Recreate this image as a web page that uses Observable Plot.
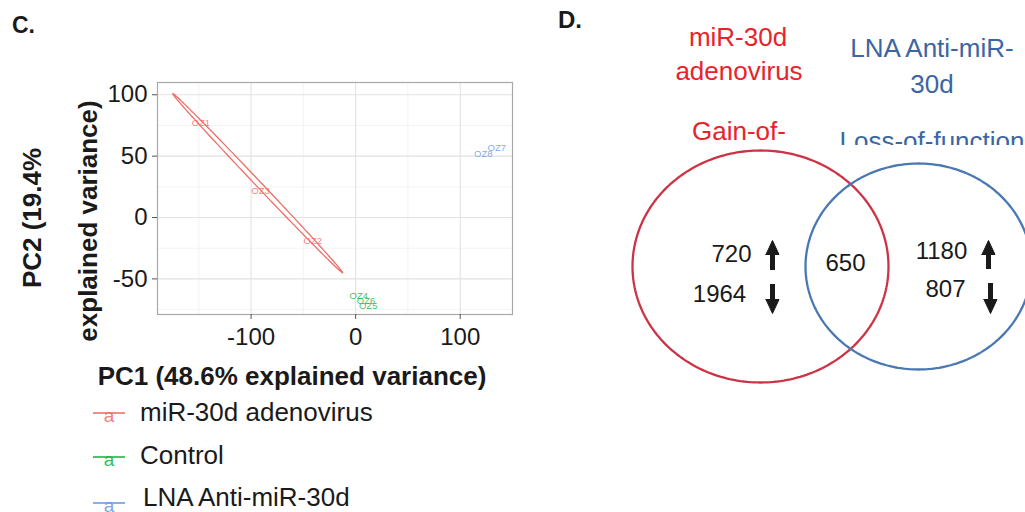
<!DOCTYPE html>
<html><head><meta charset="utf-8">
<script src="https://cdn.jsdelivr.net/npm/d3@7"></script>
<script src="https://cdn.jsdelivr.net/npm/@observablehq/plot@0.6"></script>
<style>
body{margin:0;background:#fff;font-family:"Liberation Sans",Arial,sans-serif;}
#wrap{position:relative;width:1025px;height:512px;overflow:hidden;background:#fff;}
.t{position:absolute;white-space:nowrap;line-height:1;}
svg{display:block;}
</style></head><body><div id="wrap"></div>
<script>
// ---------- Panel C data (PCA) ----------
const groups = ["miR-30d adenovirus", "Control", "LNA Anti-miR-30d"];
const groupColors = ["#F06E68", "#22B443", "#6C9BE6"];
const sampleIds = ["OZ1", "OZ3", "OZ2", "OZ4", "OZ6", "OZ5", "OZ8", "OZ7"];
const sampleGroups = ["miR-30d adenovirus", "miR-30d adenovirus", "miR-30d adenovirus",
  "Control", "Control", "Control", "LNA Anti-miR-30d", "LNA Anti-miR-30d"];
const pc1 = [-148, -91, -41, 3, 10, 12, 122, 135];
const pc2 = [77, 22, -19, -64, -68, -72, 52, 57];
const xTicks = [-100, 0, 100];
const yTicks = [-50, 0, 50, 100];
const xMinor = [-150, -50, 50, 150];
const yMinor = [-75, -25, 25, 75];
// confidence ellipse of the miR-30d group (center, major semi-axis vector, minor semi-axis)
const ellipseCenter = [-93.7, 28];
const ellipseMajor = [-81.3, 73];
const ellipseMinor = 2.4;

// ---------- Panel D data (Venn) ----------
const vennSets = ["miR-30d adenovirus", "LNA Anti-miR-30d"];
const vennUp = [720, 1180];
const vennDown = [1964, 807];
const vennShared = 650;

// ---------- build ----------
const wrap = document.getElementById("wrap");
const FONT = "Liberation Sans, Arial, sans-serif";

function addText(txt, cx, cy, o = {}) {
  const d = document.createElement("div");
  d.className = "t";
  d.textContent = txt;
  d.style.left = cx + "px";
  d.style.top = cy + "px";
  d.style.fontSize = (o.size || 26) + "px";
  d.style.fontWeight = o.weight || "normal";
  d.style.color = o.color || "#1a1a1a";
  const tx = o.align === "left" ? "0" : "-50%";
  d.style.transform = `translate(${tx},-50%)` + (o.rotate ? ` rotate(${o.rotate}deg)` : "");
  (o.parent || wrap).appendChild(d);
  return d;
}

const samples = sampleIds.map((id, i) => ({id, group: sampleGroups[i], pc1: pc1[i], pc2: pc2[i]}));

const mLen = Math.hypot(ellipseMajor[0], ellipseMajor[1]);
const perp = [ellipseMajor[1] / mLen, -ellipseMajor[0] / mLen];
const ellipsePts = d3.range(161).map(i => {
  const t = 2 * Math.PI * i / 160;
  return {
    x: ellipseCenter[0] + Math.cos(t) * ellipseMajor[0] + Math.sin(t) * ellipseMinor * perp[0],
    y: ellipseCenter[1] + Math.cos(t) * ellipseMajor[1] + Math.sin(t) * ellipseMinor * perp[1]
  };
});

const pca = Plot.plot({
  width: 560, height: 512,
  marginLeft: 157, marginTop: 82, marginRight: 48, marginBottom: 198,
  x: {domain: [-189.5, 150]},
  y: {domain: [-79, 110]},
  color: {domain: groups, range: groupColors},
  style: {fontFamily: FONT, fontSize: "24px", color: "#1a1a1a", background: "transparent"},
  marks: [
    Plot.gridX(xMinor, {stroke: "#eeeeee", strokeOpacity: 1, strokeWidth: 0.7}),
    Plot.gridY(yMinor, {stroke: "#eeeeee", strokeOpacity: 1, strokeWidth: 0.7}),
    Plot.gridX(xTicks, {stroke: "#e2e2e2", strokeOpacity: 1, strokeWidth: 1.1}),
    Plot.gridY(yTicks, {stroke: "#e2e2e2", strokeOpacity: 1, strokeWidth: 1.1}),
    Plot.frame({stroke: "#a8a8a8", strokeWidth: 1.2}),
    Plot.axisX(xTicks, {tickSize: 5, tickPadding: 8, label: null, tickFormat: d => String(d), fontSize: 24, stroke: "#555"}),
    Plot.axisY(yTicks, {tickSize: 5, tickPadding: 5, label: null, tickFormat: d => String(d), fontSize: 24, stroke: "#555"}),
    Plot.line(ellipsePts, {x: "x", y: "y", stroke: groupColors[0], strokeWidth: 1.3}),
    Plot.text(samples, {x: "pc1", y: "pc2", text: "id", fill: "group", fontSize: 9.5, fillOpacity: 0.85})
  ]
});
pca.style.position = "absolute";
pca.style.left = "0px";
pca.style.top = "0px";
wrap.appendChild(pca);

// Panel C texts
addText("C.", 12, 25, {size: 23, weight: "bold", align: "left"});
addText("PC2 (19.4%", 32, 218, {size: 26, weight: "bold", rotate: -90});
addText("explained variance)", 88, 221, {size: 26, weight: "bold", rotate: -90});
addText("PC1 (48.6% explained variance)", 292, 376, {size: 26, weight: "bold"});

// Legend
const legTextY = [412, 455, 497];
const legLineY = [413, 457, 503];
const legTextX = [140, 140, 143];
groups.forEach((g, i) => {
  const ns = "http://www.w3.org/2000/svg";
  const s = document.createElementNS(ns, "svg");
  s.setAttribute("width", 40); s.setAttribute("height", 26);
  s.style.position = "absolute";
  s.style.left = "90px";
  s.style.top = (legLineY[i] - 12) + "px";
  const l = document.createElementNS(ns, "line");
  l.setAttribute("x1", 3); l.setAttribute("x2", 35); l.setAttribute("y1", 12); l.setAttribute("y2", 12);
  l.setAttribute("stroke", groupColors[i]); l.setAttribute("stroke-width", 1.6);
  s.appendChild(l);
  const t = document.createElementNS(ns, "text");
  t.setAttribute("x", 19); t.setAttribute("y", 21); t.setAttribute("text-anchor", "middle");
  t.setAttribute("font-size", 19); t.setAttribute("font-family", FONT); t.setAttribute("fill", groupColors[i]);
  t.setAttribute("fill-opacity", 0.9);
  t.textContent = "a";
  s.appendChild(t);
  wrap.appendChild(s);
  addText(g, legTextX[i], legTextY[i], {size: 26, align: "left", color: "#1a1a1a"});
});

// ---------- Panel D: Venn ----------
const vennLayout = [
  {set: vennSets[0], cx: 760, cy: 266, rx: 128, ry: 116, color: "#cc3446"},
  {set: vennSets[1], cx: 918, cy: 266, rx: 113, ry: 103, color: "#4a78b2"}
];
const circlePts = vennLayout.flatMap(c => d3.range(241).map(i => {
  const t = 2 * Math.PI * i / 240;
  return {set: c.set, x: c.cx + c.rx * Math.cos(t), y: c.cy + c.ry * Math.sin(t)};
}));
const countLabels = [
  {text: String(vennUp[0]), x: 731, y: 254},
  {text: String(vennDown[0]), x: 719, y: 294},
  {text: String(vennShared), x: 845, y: 263},
  {text: String(vennUp[1]), x: 941, y: 251},
  {text: String(vennDown[1]), x: 945, y: 289}
];
const arrows = [
  {x: 772, tail: 270, head: 240},
  {x: 772, tail: 284, head: 313},
  {x: 988, tail: 269, head: 240},
  {x: 990, tail: 283, head: 313}
];
const shafts = arrows.map(a => ({x: a.x, y1: a.tail, y2: a.head + Math.sign(a.tail - a.head) * 12}));
const heads = arrows.flatMap((a, k) => {
  const s = Math.sign(a.tail - a.head);
  const base = a.head + s * 14;
  return [
    {k, x: a.x - 6.5, y: base},
    {k, x: a.x, y: a.head},
    {k, x: a.x + 6.5, y: base},
    {k, x: a.x - 6.5, y: base}
  ];
});

const venn = Plot.plot({
  width: 465, height: 512,
  margin: 0,
  x: {domain: [560, 1025], range: [0, 465], axis: null},
  y: {domain: [0, 512], range: [0, 512], axis: null},
  color: {domain: vennSets, range: vennLayout.map(c => c.color)},
  style: {fontFamily: FONT, background: "transparent"},
  marks: [
    Plot.line(circlePts, {x: "x", y: "y", z: "set", stroke: "set", strokeWidth: 2.3}),
    Plot.text(countLabels, {x: "x", y: "y", text: "text", fontSize: 24, fill: "#1a1a1a"}),
    Plot.ruleX(shafts, {x: "x", y1: "y1", y2: "y2", stroke: "#1a1a1a", strokeWidth: 5}),
    Plot.line(heads, {x: "x", y: "y", z: "k", fill: "#1a1a1a", stroke: "#1a1a1a", strokeWidth: 1})
  ]
});
venn.style.position = "absolute";
venn.style.left = "560px";
venn.style.top = "0px";
wrap.appendChild(venn);

addText("D.", 558, 20, {size: 24, weight: "bold", align: "left"});
const RED = "#e8232b", BLUE = "#3b66a2";
addText("miR-30d", 738, 37, {size: 26, color: RED});
addText("adenovirus", 739, 71, {size: 26, color: RED});
addText("Gain-of-", 739, 131, {size: 26, color: RED});
addText("LNA Anti-miR-", 932, 48, {size: 26, color: BLUE});
addText("30d", 932, 84, {size: 26, color: BLUE});
const clip = document.createElement("div");
clip.style.cssText = "position:absolute;left:560px;top:0;width:465px;height:145px;overflow:hidden;";
wrap.appendChild(clip);
addText("Loss-of-function", 372, 141, {size: 26, color: BLUE, parent: clip});
</script>
</body></html>
